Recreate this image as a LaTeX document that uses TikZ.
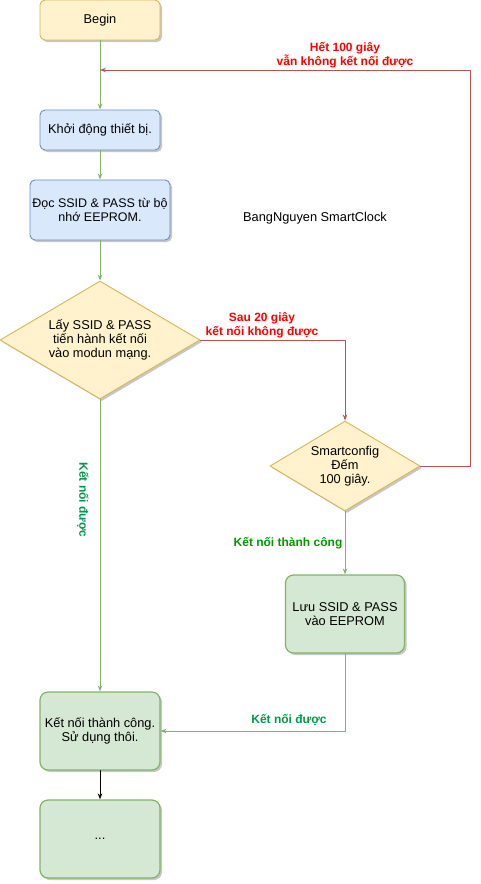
\documentclass[tikz,border=0pt]{standalone}
\usepackage{fontspec}
\setmainfont{Liberation Sans}
\usetikzlibrary{arrows.meta, shadows, shapes.geometric, positioning}
\definecolor{startfill}{HTML}{FFF2CC}
\definecolor{startdraw}{HTML}{D6B656}
\definecolor{stepfill}{HTML}{DAE8FC}
\definecolor{stepdraw}{HTML}{6C8EBF}
\definecolor{okfill}{HTML}{D5E8D4}
\definecolor{okdraw}{HTML}{82B366}
\definecolor{faildraw}{HTML}{B85450}
\definecolor{failtext}{HTML}{FF0000}
\definecolor{oktext}{HTML}{00994C}
\definecolor{donetext}{HTML}{009900}

\begin{document}
\begin{tikzpicture}[
    x=1pt, y=-1pt,
    line cap=round, line join=round,
    font=\fontsize{12.8}{14}\selectfont,
    shadowed/.style={drop shadow={shadow xshift=2pt, shadow yshift=-2pt, fill=black!22, opacity=1}},
    boxstart/.style={draw=startdraw, fill=startfill, line width=0.9pt, rounded corners=5pt, minimum width=120pt, minimum height=40pt, align=center, shadowed},
    boxstep/.style={draw=stepdraw, fill=stepfill, line width=0.9pt, rounded corners=5pt, minimum width=120pt, minimum height=40pt, align=center, inner sep=0.5pt, shadowed},
    boxok/.style={draw=okdraw, fill=okfill, line width=1.2pt, rounded corners=8pt, minimum width=120pt, minimum height=78pt, align=center, inner sep=1pt, shadowed},
    boxask/.style={diamond, draw=startdraw, fill=startfill, line width=0.9pt, shape aspect=1.7, inner sep=0pt, align=center, shadowed},
    okline/.style={draw=okdraw, line width=1pt},
    failline/.style={draw=faildraw, line width=1pt},
    failnote/.style={text=failtext, font=\fontsize{12}{14}\selectfont\bfseries, align=center},
    oknote/.style={text=oktext, font=\fontsize{12}{14}\selectfont\bfseries, align=center}
  ]
    \useasboundingbox (0,0) rectangle (481,884);

    % Cột trái
    \node[boxstart] (Begin) at (100,20) {Begin};
    \node[boxstep] (Khoidong) at (100,130) {Khởi động thiết bị.};
    \node[boxstep, minimum width=140pt, minimum height=60pt, font=\fontsize{12.5}{14}\selectfont] (Doc) at (100,210) {Đọc SSID \& PASS từ bộ\\nhớ EEPROM.};
    \node[boxask, minimum width=200pt, minimum height=118pt] (Lay) at (100,340) {Lấy SSID \& PASS\\tiến hành kết nối\\vào modun mạng.};
    \node[boxok] (Ketnoi) at (100,731) {Kết nối thành công.\\Sử dụng thôi.};
    \node[boxok] (Tiep) at (100,839) {...};

    % Cột phải
    \node[boxask, minimum width=150pt, minimum height=90pt] (Smart) at (345,466) {Smartconfig\\Đếm\\ 100 giây.};
    \node[boxok, minimum width=119pt] (Luu) at (345,614) {Lưu SSID \& PASS\\vào EEPROM};

    \node (Tieude) at (315,218) {BangNguyen SmartClock};

    % Luồng chính
    \draw[-{Stealth[length=6pt]}, okline] (Begin.south) -- (Khoidong.north);
    \draw[-{Stealth[length=6pt]}, okline] (Khoidong.south) -- (Doc.north);
    \draw[-{Stealth[length=6pt]}, okline] (Doc.south) -- (Lay.north);
    \draw[-{Stealth[length=6pt]}, okline] (Lay.south) -- (Ketnoi.north);
    \node[oknote, rotate=-90] (NhanDuoc) at (83,500) {Kết nối được};
    \draw[-{Stealth[length=6pt]}, draw=black, line width=1pt] (Ketnoi.south) -- (Tiep.north);

    % Nhánh smartconfig
    \draw[-{Stealth[length=6pt]}, failline] (Lay.east) -| (Smart.north);
    \node[failnote] (NhanSau) at (262,325) {Sau 20 giây\\kết nối không được};
    \draw[-{Stealth[length=6pt]}, okline] (Smart.south) -- (Luu.north);
    \node[oknote, text=donetext] (NhanThanh) at (288,543) {Kết nối thành công};
    \draw[-{Stealth[length=6pt]}, okline] (Luu.south) |- (Ketnoi.east);
    \node[oknote] (NhanLuu) at (289,720) {Kết nối được};

    % Quay lại khởi động
    \coordinate (Vaolai) at (100,70);
    \coordinate (Goc) at (470,70);
    \draw[-{Stealth[length=6pt]}, failline] (Smart.east) -| (Goc) -- (Vaolai);
    \node[failnote] (NhanHet) at (345,55) {Hết 100 giây\\vẫn không kết nối được};

  \end{tikzpicture}
\end{document}
